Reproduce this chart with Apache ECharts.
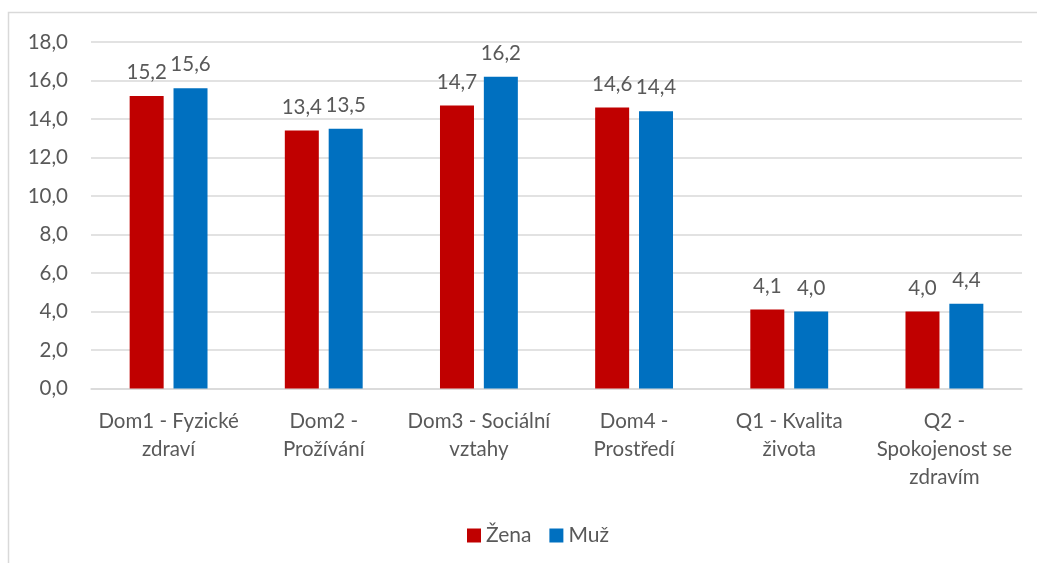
<!DOCTYPE html>
<html>
<head>
<meta charset="utf-8">
<script src="https://cdn.jsdelivr.net/npm/echarts@6/dist/echarts.min.js"></script>
<style>
  html, body { margin: 0; padding: 0; background: #fff; }
  #container { width: 1037px; height: 563px; }
</style>
</head>
<body>
<div id="container"></div>
<script>
let categories = ['Dom1 - Fyzické\nzdraví', 'Dom2 -\nProžívání', 'Dom3 - Sociální\nvztahy', 'Dom4 -\nProstředí', 'Q1 - Kvalita\nživota', 'Q2 -\nSpokojenost se\nzdravím'];
let zena = [15.2, 13.4, 14.7, 14.6, 4.1, 4.0];
let muz = [15.6, 13.5, 16.2, 14.4, 4.0, 4.4];

let dom = document.getElementById("container");
let myChart = echarts.init(dom);
let fontFamily = 'Lato, "Open Sans", sans-serif';
let txtColor = '#595959';

let fmt = function (v) {
    return Number(v).toFixed(1).replace('.', ',');
};

let labelStyle = {
    show: true,
    position: 'top',
    distance: 13,
    color: txtColor,
    fontSize: 20.5,
    fontFamily: fontFamily,
    formatter: function (p) { return fmt(p.value); }
};

option = {
    animation: false,
    textStyle: { fontFamily: fontFamily },
    graphic: [{
        type: 'rect',
        shape: { x: 8.5, y: 12.5, width: 1100, height: 600 },
        style: { fill: 'none', stroke: '#d9d9d9', lineWidth: 1.5 },
        silent: true
    }],
    legend: {
        top: 520,
        left: 462,
        itemWidth: 14,
        itemHeight: 14,
        itemGap: 18,
        icon: 'rect',
        textStyle: { color: txtColor, fontSize: 21, fontFamily: fontFamily },
        data: ['Žena', 'Muž']
    },
    grid: {
        left: 91,
        right: 15,
        top: 42,
        bottom: 174.5,
        containLabel: false
    },
    xAxis: {
        type: 'category',
        data: categories,
        axisLine: { lineStyle: { color: '#d9d9d9', width: 1.5 } },
        axisTick: { show: false },
        axisLabel: {
            color: txtColor,
            fontSize: 20.5,
            lineHeight: 28,
            margin: 19,
            interval: 0,
            fontFamily: fontFamily
        }
    },
    yAxis: {
        type: 'value',
        min: 0,
        max: 18,
        interval: 2,
        axisLine: { show: false },
        axisTick: { show: false },
        splitLine: { lineStyle: { color: '#d9d9d9', width: 1.5 } },
        axisLabel: {
            color: txtColor,
            fontSize: 20.5,
            margin: 23,
            fontFamily: fontFamily,
            formatter: function (v) { return fmt(v); }
        }
    },
    series: [
        {
            name: 'Žena',
            type: 'bar',
            data: zena,
            barWidth: 34,
            barGap: '29%',
            itemStyle: { color: '#c00000' },
            label: labelStyle
        },
        {
            name: 'Muž',
            type: 'bar',
            data: muz,
            barWidth: 34,
            barGap: '29%',
            itemStyle: { color: '#0070c0' },
            label: labelStyle
        }
    ]
};
if (option && typeof option === "object") {
    myChart.setOption(option, true);
}
</script>
</body>
</html>
